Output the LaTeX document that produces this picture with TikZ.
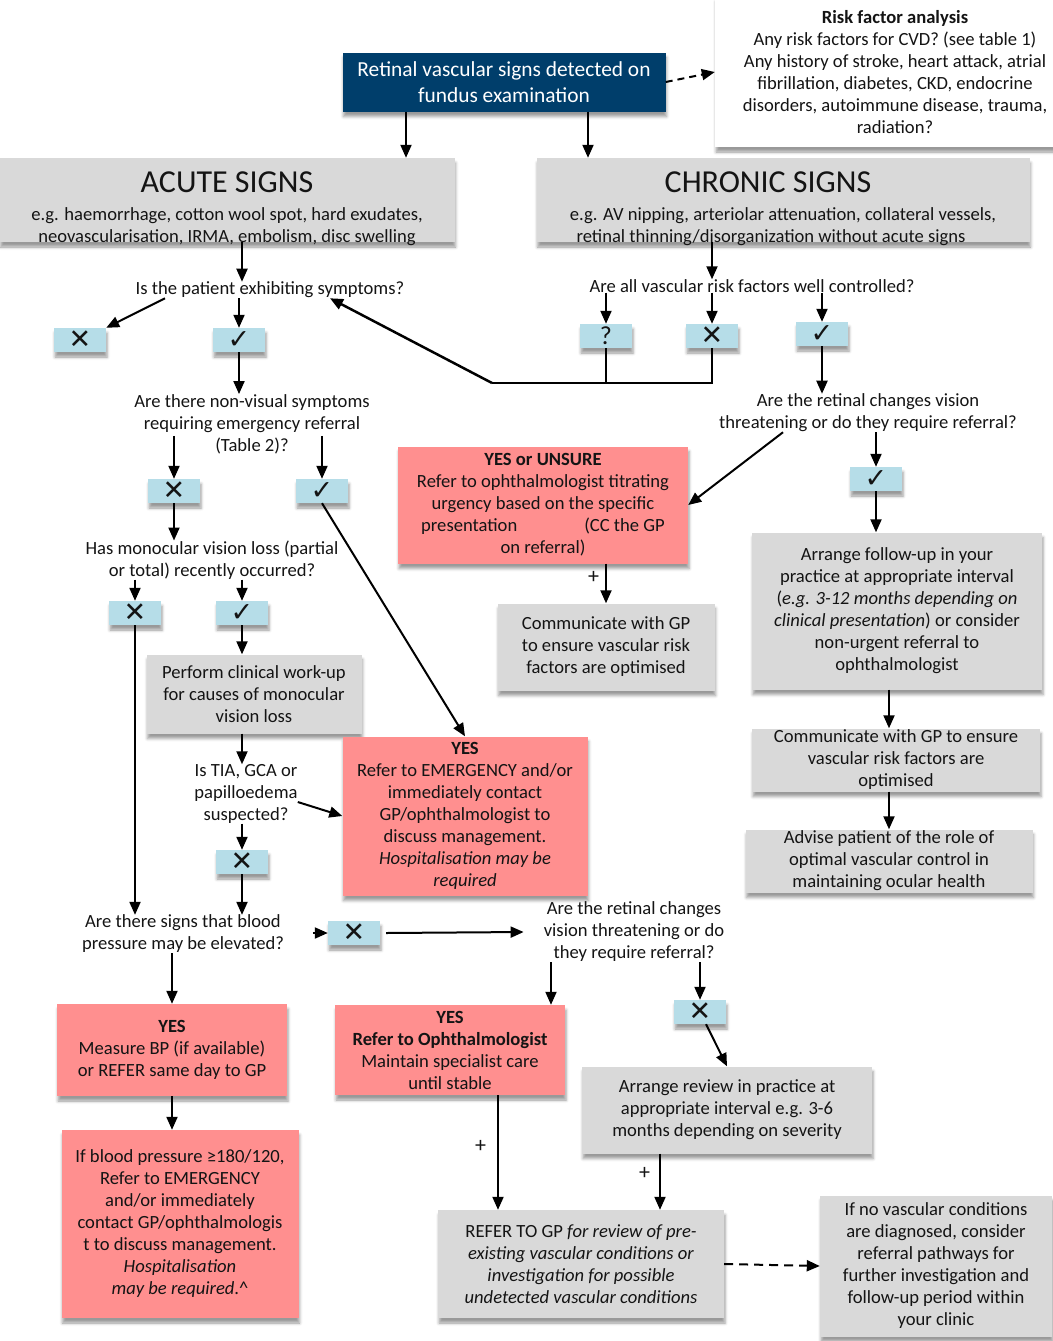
\documentclass[tikz,border=0pt]{standalone}
\usepackage{fontspec}
\setmainfont{Carlito}
\newfontfamily\symfont{DejaVu Sans}
\usetikzlibrary{arrows.meta,calc,shadows.blur}
\definecolor{navy}{RGB}{0,62,107}
\definecolor{boxgrey}{RGB}{217,217,217}
\definecolor{boxred}{RGB}{255,143,143}
\definecolor{tickblue}{RGB}{182,221,232}
\definecolor{ink}{RGB}{20,20,20}
\begin{document}
\begin{tikzpicture}[x=1pt, y=-1pt,
    txt/.style={font=\fontsize{18.6}{22}\selectfont, align=center, inner sep=0pt, text=ink},
    lift/.style={blur shadow={shadow xshift=1pt, shadow yshift=-5pt, shadow blur radius=3pt}},
    greybox/.style={txt, fill=boxgrey, lift},
    alertbox/.style={txt, fill=boxred, lift},
    tickbox/.style={fill=tickblue, minimum width=52pt, minimum height=24pt, inner sep=0pt, text=ink, font=\symfont\fontsize{27}{24}\selectfont, lift},
    arr/.style={-{Triangle[length=13pt, width=11pt]}, line width=2pt},
    joinline/.style={line width=2.5pt}]
  \useasboundingbox (0,0) rectangle (1052,1341);

  \node[fill=navy, text=white, font=\fontsize{21.4}{26}\selectfont, align=center, inner sep=0pt,
        minimum width=323pt, minimum height=59pt, lift] (top) at (504,82)
        {Retinal vascular signs detected on\\fundus examination};
  \node[txt, fill=white, lift, minimum width=360pt, minimum height=150pt] (risk) at (895,72)
        {\textbf{Risk factor analysis}\\Any risk factors for CVD? (see table 1)\\Any history of stroke, heart attack, atrial\\fibrillation, diabetes, CKD, endocrine\\disorders, autoimmune disease, trauma,\\radiation?};
  \node[greybox, minimum width=455pt, minimum height=84pt] (acute) at (227,200)
        {\rule{0pt}{34pt}{\fontsize{32}{34}\selectfont ACUTE SIGNS}\\[6pt]e.g. haemorrhage, cotton wool spot, hard exudates,\\\raisebox{0pt}[\height][0pt]{neovascularisation, IRMA, embolism, disc swelling}};
  \node[greybox, minimum width=493pt, minimum height=84pt] (chronic) at (783,200)
        {\rule{0pt}{34pt}{\fontsize{32}{34}\selectfont CHRONIC SIGNS}\hspace*{30pt}\\[6pt]e.g. AV nipping, arteriolar attenuation, collateral vessels,\hspace*{24pt}\\\raisebox{0pt}[\height][0pt]{retinal thinning/disorganization without acute signs}\hspace*{24pt}};

  \node[txt] (qsym) at (270,290) {Is the patient exhibiting symptoms?};
  \node[txt] (qrisk) at (752,286) {Are all vascular risk factors well controlled?};
  \node[tickbox] (xa) at (80,340) {✕};
  \node[tickbox] (ca) at (239,340) {✓};
  \node[tickbox, font=\fontsize{26}{24}\selectfont] (qm) at (606,336) {?};
  \node[tickbox] (xr) at (712,336) {✕};
  \node[tickbox] (cr) at (822,334) {✓};
  \coordinate (fork) at (492,383);

  \node[txt] (qnv) at (252,424) {Are there non-visual symptoms\\requiring emergency referral\\(Table 2)?};
  \node[tickbox] (xnv) at (174,491) {✕};
  \node[tickbox] (cnv) at (322,491) {✓};
  \node[txt] (qmono) at (212,560) {Has monocular vision loss (partial\\or total) recently occurred?};
  \node[tickbox] (xmono) at (135,613) {✕};
  \node[tickbox] (cmono) at (242,613) {✓};
  \node[greybox, minimum width=215pt, minimum height=79pt] (workup) at (254,694)
        {Perform clinical work-up\\for causes of monocular\\vision loss};
  \node[txt] (qtia) at (246,794) {Is TIA, GCA or\\papilloedema\\suspected?};
  \node[alertbox, minimum width=245pt, minimum height=159pt] (emerg) at (465,816)
        {\textbf{YES}\\Refer to EMERGENCY and/or\\immediately contact\\GP/ophthalmologist to\\discuss management.\\\textit{Hospitalisation may be}\\\textit{required}};
  \node[tickbox] (xtia) at (242,862) {✕};

  \node[txt] (qbp) at (183,934) {Are there signs that blood\\pressure may be elevated?};
  \node[tickbox] (xbp) at (354,933) {✕};
  \node[txt] (qret2) at (634,932) {Are the retinal changes\\vision threatening or do\\they require referral?};
  \node[alertbox, minimum width=230pt, minimum height=92pt] (yesbp) at (172,1050)
        {\textbf{YES}\\Measure BP (if available)\\or REFER same day to GP};
  \node[alertbox, minimum width=237pt, minimum height=188pt] (bp180) at (180,1224)
        {If blood pressure ≥180/120,\\Refer to EMERGENCY\\and/or immediately\\contact GP/ophthalmologis\\t to discuss management.\\\textit{Hospitalisation}\\\textit{may be required}.\textasciicircum};
  \node[alertbox, minimum width=230pt, minimum height=90pt] (yesoph) at (450,1050)
        {\textbf{YES}\\\textbf{Refer to Ophthalmologist}\\Maintain specialist care\\until stable};
  \node[tickbox] (xret2) at (700,1012) {✕};
  \node[greybox, minimum width=290pt, minimum height=87pt] (review) at (727,1110)
        {Arrange review in practice at\\appropriate interval e.g. 3-6\\months depending on severity};
  \node[greybox, minimum width=286pt, minimum height=108pt] (refergp) at (581,1264)
        {REFER TO GP \textit{for review of pre-}\\\textit{existing vascular conditions or}\\\textit{investigation for possible}\\\textit{undetected vascular conditions}};
  \node[greybox, minimum width=232pt, minimum height=141pt] (noconds) at (936,1266)
        {If no vascular conditions\\are diagnosed, consider\\referral pathways for\\further investigation and\\follow-up period within\\your clinic};

  \node[txt] (qret1) at (868,413) {Are the retinal changes vision\\threatening or do they require referral?};
  \node[tickbox] (cret1) at (876,479) {✓};
  \node[alertbox, minimum width=290pt, minimum height=117pt] (unsure) at (543,505)
        {\textbf{YES or UNSURE}\\Refer to ophthalmologist titrating\\urgency based on the specific\\presentation\hspace{67pt}(CC the GP\\on referral)};
  \node[greybox, minimum width=217pt, minimum height=87pt] (comm1) at (606,647)
        {Communicate with GP\\to ensure vascular risk\\factors are optimised};
  \node[greybox, minimum width=290pt, minimum height=157pt] (follow) at (897,611)
        {Arrange follow-up in your\\practice at appropriate interval\\(\textit{e.g. 3-12 months depending on}\\\textit{clinical presentation}) or consider\\non-urgent referral to\\ophthalmologist};
  \node[greybox, minimum width=288pt, minimum height=63pt] (comm2) at (896,760)
        {Communicate with GP to ensure\\vascular risk factors are\\optimised};
  \node[greybox, minimum width=287pt, minimum height=63pt] (advise) at (889,861)
        {Advise patient of the role of\\optimal vascular control in\\maintaining ocular health};

  \draw[arr, dash pattern=on 7pt off 5pt] (top.east) -- (risk.west);
  \draw[arr] ([xshift=-98pt]top.south) -- ([xshift=-98pt]top.south |- acute.north);
  \draw[arr] ([xshift=84pt]top.south) -- ([xshift=84pt]top.south |- chronic.north);
  \draw[arr] ([xshift=15pt]acute.south) -- ([xshift=15pt]acute.south |- qsym.north);
  \draw[arr] (xr |- chronic.south) -- (xr |- qrisk.north);
  \draw[arr] ([xshift=-105pt]qsym.south) -- (xa.north east);
  \draw[arr] (ca |- qsym.south) -- (ca.north);
  \draw[arr] (ca.south) -- (ca.south |- qnv.north);
  \foreach \t in {qm, xr, cr}
    \draw[arr] (\t |- qrisk.south) -- (\t.north);
  \draw[joinline] (qm.south) -- (qm.south |- fork);
  \draw[joinline] (xr.south) -- (xr.south |- fork) -- (fork);
  \draw[arr, line width=2.5pt] (fork) -- ([xshift=60pt]qsym.south);
  \draw[arr] (cr.south) -- (cr.south |- qret1.north);

  \draw[arr] ([yshift=18pt]xnv |- qnv.south) -- (xnv.north);
  \draw[arr] ([yshift=18pt]cnv |- qnv.south) -- (cnv.north);
  \draw[arr] (xnv.south) -- (xnv.south |- qmono.north);
  \foreach \t in {xmono, cmono}
    \draw[arr] (\t |- qmono.south) -- (\t.north);
  \draw[arr] (xmono.south) -- (xmono.south |- qbp.north);
  \draw[arr] (cmono.south) -- (cmono.south |- workup.north);
  \draw[arr] (xtia |- workup.south) -- (xtia |- qtia.north);
  \draw[arr] ([yshift=-8pt]qtia.east) -- (emerg.west);
  \draw[arr] (xtia |- qtia.south) -- (xtia.north);
  \draw[arr] (xtia.south) -- (xtia.south |- qbp.north);
  \draw[arr] (cnv.south) -- (emerg.north);

  \draw[arr] (yesbp |- qbp.south) -- (yesbp.north);
  \draw[arr] ([xshift=-15pt]xbp.west) -- (xbp.west);
  \draw[arr] ([xshift=6pt]xbp.east) -- ([xshift=-20pt]qret2.west);
  \draw[arr] ([xshift=-83pt]qret2.south) -- ([xshift=-83pt]qret2.south |- yesoph.north);
  \draw[arr] (xret2 |- qret2.south) -- (xret2.north);
  \draw[arr] ([xshift=6pt]xret2.south) -- (review.north);
  \draw[arr] (yesbp.south) -- (yesbp.south |- bp180.north);
  \draw[arr] ([xshift=48pt]yesoph.south) -- node[txt, font=\fontsize{22}{22}\selectfont, pos=0.45, left=11pt] (plus1) {+}
        ([xshift=48pt]yesoph.south |- refergp.north);
  \draw[arr] ([xshift=-67pt]review.south) -- node[txt, font=\fontsize{22}{22}\selectfont, pos=0.35, left=9pt] (plus2) {+}
        ([xshift=-67pt]review.south |- refergp.north);
  \draw[arr, dash pattern=on 9pt off 6pt] (refergp.east) -- (noconds.west);

  \draw[arr] ([xshift=-85pt]qret1.south) -- (unsure.east);
  \draw[arr] (cret1 |- qret1.south) -- (cret1.north);
  \draw[arr] (cret1.south) -- (cret1.south |- follow.north);
  \draw[arr] (comm1 |- unsure.south) -- node[txt, font=\fontsize{22}{22}\selectfont, pos=0.35, left=6pt] (plus3) {+} (comm1.north);
  \draw[arr] (advise |- follow.south) -- (advise |- comm2.north);
  \draw[arr] (advise |- comm2.south) -- (advise.north);
\end{tikzpicture}
\end{document}
